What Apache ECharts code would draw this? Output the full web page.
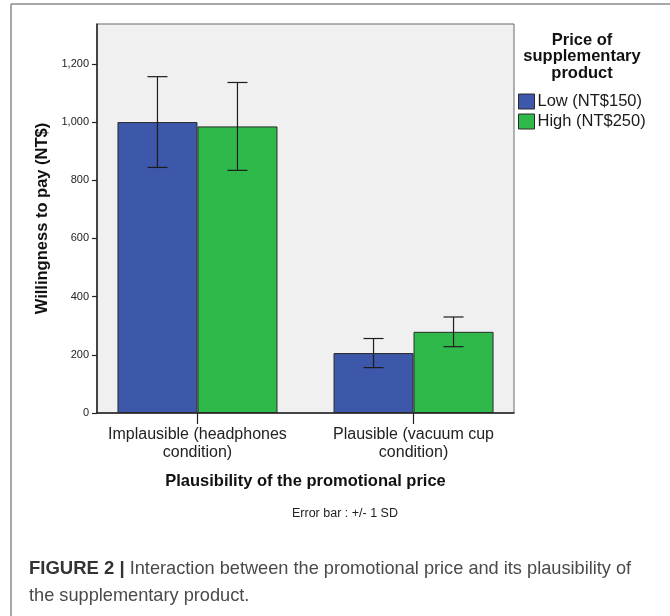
<!DOCTYPE html>
<html>
<head>
<meta charset="utf-8">
<title>Willingness to pay by plausibility and supplementary price</title>
<script src="https://cdn.jsdelivr.net/npm/echarts@6/dist/echarts.min.js"></script>
<style>
  html, body { margin: 0; padding: 0; background: #ffffff; }
  #chart { width: 670px; height: 616px; }
</style>
</head>
<body>
<div id="chart"></div>
<script>
// Plausibility conditions (x positions 1 and 2 on the base axis)
const categories = ['Implausible (headphones\ncondition)', 'Plausible (vacuum cup\ncondition)'];
const categoryPos = [1, 2];

// Price of supplementary product
const seriesNames = ['Low (NT$150)', 'High (NT$250)'];

// Mean willingness to pay (NT$)
const lowMeans = [1000, 206];
const highMeans = [985, 279];

// Standard deviations (error bar: +/- 1 SD)
const lowSD = [156, 50];
const highSD = [151, 51];

// Value axis tick labels
const yTicks = [0, 200, 400, 600, 800, 1000, 1200];

const BAR_W = 80;
const COLORS = ['#3d57aa', '#2fb94b'];
const FONT = "'Liberation Sans', Arial, sans-serif";

function fmtThousands(v) {
  return String(v).replace(/\B(?=(\d{3})+(?!\d))/g, ',');
}

function barData(means) {
  return means.map((m, i) => [categoryPos[i], m]);
}

// Error bar items: [x, mean, sd, side] (side -1 = left bar, +1 = right bar)
const errorData = [];
lowMeans.forEach((m, i) => errorData.push([categoryPos[i], m, lowSD[i], -1]));
highMeans.forEach((m, i) => errorData.push([categoryPos[i], m, highSD[i], 1]));

function renderError(params, api) {
  const x = api.value(0), mean = api.value(1), sd = api.value(2), side = api.value(3);
  const top = api.coord([x, mean + sd]);
  const bot = api.coord([x, mean - sd]);
  const cx = top[0] + side * BAR_W / 2;
  const cap = 10;
  const style = { stroke: '#1c1c1c', lineWidth: 1.2 };
  return {
    type: 'group',
    children: [
      { type: 'line', shape: { x1: cx, y1: top[1], x2: cx, y2: bot[1] }, style },
      { type: 'line', shape: { x1: cx - cap, y1: top[1], x2: cx + cap, y2: top[1] }, style },
      { type: 'line', shape: { x1: cx - cap, y1: bot[1], x2: cx + cap, y2: bot[1] }, style }
    ]
  };
}

const chart = echarts.init(document.getElementById('chart'), null, { renderer: 'canvas' });

const option = {
  backgroundColor: '#ffffff',
  animation: false,
  textStyle: { fontFamily: FONT },
  grid: {
    left: 97, top: 24, width: 417, height: 389,
    show: true,
    backgroundColor: '#f0f0f0',
    borderColor: '#6a6a6a',
    borderWidth: 1
  },
  legend: {
    orient: 'vertical',
    left: 518, top: 93,
    padding: 0,
    itemWidth: 16, itemHeight: 15, itemGap: 3,
    icon: 'rect',
    selectedMode: false,
    data: seriesNames,
    itemStyle: { borderColor: '#2a2a2a', borderWidth: 1 },
    textStyle: { fontFamily: FONT, fontSize: 16.5, color: '#1a1a1a', padding: [0, 0, 0, -2] }
  },
  xAxis: {
    type: 'value',
    min: 0.535, max: 2.465,
    name: 'Plausibility of the promotional price',
    nameLocation: 'middle',
    nameGap: 60,
    nameTextStyle: { fontFamily: FONT, fontSize: 16.5, fontWeight: 'bold', color: '#111' },
    axisLine: { show: true, lineStyle: { color: '#222', width: 1.5 } },
    axisTick: { show: true, customValues: categoryPos, length: 11, lineStyle: { color: '#222', width: 1.2 } },
    axisLabel: {
      customValues: categoryPos,
      formatter: v => categories[categoryPos.indexOf(Math.round(v))] || '',
      margin: 13,
      fontFamily: FONT, fontSize: 16, lineHeight: 18, color: '#222'
    },
    splitLine: { show: false }
  },
  yAxis: {
    type: 'value',
    min: 0, max: 1337,
    name: 'Willingness to pay (NT$)',
    nameLocation: 'middle',
    nameGap: 46,
    nameTextStyle: { fontFamily: FONT, fontSize: 16.5, fontWeight: 'bold', color: '#111' },
    axisLine: { show: true, lineStyle: { color: '#222', width: 1.5 } },
    axisTick: { show: true, customValues: yTicks, length: 5, lineStyle: { color: '#222', width: 1.2 } },
    axisLabel: {
      customValues: yTicks,
      formatter: v => fmtThousands(v),
      margin: 8,
      fontFamily: FONT, fontSize: 11, color: '#222'
    },
    splitLine: { show: false }
  },
  series: [
    {
      name: seriesNames[0],
      type: 'bar',
      data: barData(lowMeans),
      barWidth: BAR_W,
      barGap: '0%',
      itemStyle: { color: COLORS[0], borderColor: '#2a2a2a', borderWidth: 1 }
    },
    {
      name: seriesNames[1],
      type: 'bar',
      data: barData(highMeans),
      barWidth: BAR_W,
      barGap: '0%',
      itemStyle: { color: COLORS[1], borderColor: '#2a2a2a', borderWidth: 1 }
    },
    {
      type: 'custom',
      renderItem: renderError,
      data: errorData,
      z: 5,
      silent: true
    }
  ],
  graphic: [
    // Outer figure frame
    { type: 'line', shape: { x1: 11, y1: 4, x2: 670, y2: 4 }, style: { stroke: '#8a8a8a', lineWidth: 1.5 }, silent: true },
    { type: 'line', shape: { x1: 11, y1: 4, x2: 11, y2: 616 }, style: { stroke: '#8a8a8a', lineWidth: 1.5 }, silent: true },
    // Legend heading
    {
      type: 'text', x: 582, y: 32,
      style: {
        text: 'Price of\nsupplementary\nproduct',
        fontFamily: FONT, fontSize: 16.5, fontWeight: 'bold', lineHeight: 16.5,
        fill: '#111', align: 'center'
      }
    },
    // Error bar note
    {
      type: 'text', left: 292, top: 507,
      style: {
        text: 'Error bar : +/- 1 SD',
        fontFamily: "'Liberation Sans Narrow', 'Arial Narrow', " + FONT,
        fontSize: 12.5, fill: '#222'
      }
    },
    // Caption
    {
      type: 'text', left: 29, top: 555,
      style: {
        text: '{b|FIGURE 2 |} Interaction between the promotional price and its plausibility of\nthe supplementary product.',
        fontFamily: FONT, fontSize: 18.2, lineHeight: 27, fill: '#4a4a4a',
        rich: {
          b: { fontFamily: FONT, fontSize: 18.5, fontWeight: 'bold', fill: '#333', lineHeight: 27 }
        }
      }
    }
  ]
};

chart.setOption(option);
</script>
</body>
</html>
